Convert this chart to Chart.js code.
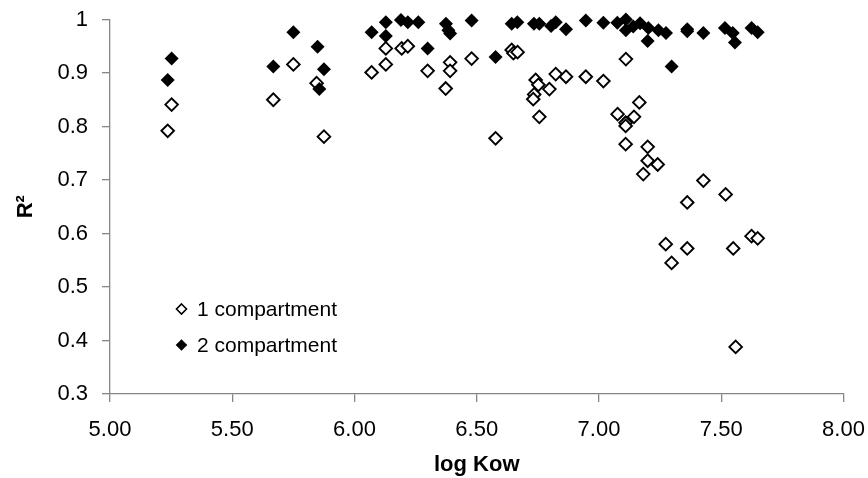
<!DOCTYPE html>
<html>
<head>
<meta charset="utf-8">
<script src="https://cdn.jsdelivr.net/npm/chart.js@4.4.0/dist/chart.umd.min.js"></script>
<style>
  html, body { margin: 0; padding: 0; background: #ffffff; }
  #wrap { width: 868px; height: 478px; position: relative; }
</style>
</head>
<body>
<div id="wrap"><canvas id="c" width="868" height="478"></canvas></div>
<script>
// ---- Data ----
const seriesNames = ['1 compartment', '2 compartment'];

const oneX = [5.252, 5.236, 5.668, 5.750, 5.845, 5.875,
  6.070, 6.128, 6.128, 6.193, 6.218, 6.299, 6.391, 6.391, 6.373, 6.479, 6.577, 6.643, 6.650, 6.667,
  6.741, 6.752, 6.735, 6.731, 6.756, 6.797, 6.823, 6.865, 6.946,
  7.018, 7.110, 7.076, 7.109, 7.109, 7.143, 7.165, 7.109, 7.199, 7.199, 7.240, 7.181,
  7.427, 7.518, 7.361, 7.273, 7.361, 7.297, 7.549, 7.624, 7.649, 7.559];
const oneY = [0.841, 0.792, 0.850, 0.916, 0.881, 0.781,
  0.901, 0.916, 0.946, 0.946, 0.950, 0.904, 0.920, 0.904, 0.871, 0.927, 0.778, 0.943, 0.937, 0.939,
  0.887, 0.878, 0.860, 0.851, 0.818, 0.870, 0.898, 0.893, 0.893,
  0.885, 0.926, 0.823, 0.807, 0.801, 0.818, 0.845, 0.767, 0.762, 0.736, 0.729, 0.711,
  0.699, 0.673, 0.658, 0.580, 0.572, 0.545, 0.572, 0.595, 0.591, 0.388];

const twoX = [5.252, 5.236, 5.668, 5.750, 5.849, 5.875, 5.856,
  6.070, 6.128, 6.128, 6.190, 6.218, 6.261, 6.299, 6.374, 6.384, 6.391, 6.479, 6.577, 6.643, 6.666,
  6.734, 6.756, 6.804, 6.823, 6.865, 6.946,
  7.018, 7.075, 7.110, 7.110, 7.140, 7.168, 7.202, 7.199, 7.243, 7.274, 7.297, 7.361, 7.361,
  7.427, 7.515, 7.547, 7.556, 7.624, 7.649];
const twoY = [0.927, 0.887, 0.912, 0.976, 0.949, 0.907, 0.870,
  0.976, 0.995, 0.969, 0.999, 0.995, 0.995, 0.946, 0.992, 0.980, 0.974, 0.998, 0.930, 0.992, 0.995,
  0.992, 0.992, 0.988, 0.995, 0.982, 0.998,
  0.994, 0.994, 1.000, 0.980, 0.987, 0.993, 0.984, 0.960, 0.980, 0.975, 0.912, 0.982, 0.978,
  0.975, 0.984, 0.975, 0.957, 0.984, 0.976];

const xTicks = [5.0, 5.5, 6.0, 6.5, 7.0, 7.5, 8.0];
const yTicks = [0.3, 0.4, 0.5, 0.6, 0.7, 0.8, 0.9, 1.0];
const xTitle = 'log Kow';
const yTitle = 'R\u00B2';

// ---- Build ----
const toPts = (xs, ys) => xs.map((x, i) => ({ x: x, y: ys[i] }));
const FONT = '"Liberation Sans", Arial, sans-serif';
const AXIS_COLOR = '#868686';

function diamond(ctx, x, y, r, fill, stroke, lw) {
  ctx.beginPath();
  ctx.moveTo(x, y - r);
  ctx.lineTo(x + r, y);
  ctx.lineTo(x, y + r);
  ctx.lineTo(x - r, y);
  ctx.closePath();
  ctx.fillStyle = fill;
  ctx.fill();
  if (lw > 0) { ctx.lineWidth = lw; ctx.strokeStyle = stroke; ctx.stroke(); }
}

const legendPlugin = {
  id: 'innerLegend',
  afterDatasetsDraw(chart) {
    const ctx = chart.ctx;
    const a = chart.chartArea;
    const mx = a.left + 71.5, tx = a.left + 87;
    const rows = [a.top + 289.5, a.top + 325.5];
    ctx.save();
    ctx.font = '21px ' + FONT;
    ctx.textBaseline = 'middle';
    ctx.textAlign = 'left';
    rows.forEach((ry, i) => {
      if (i === 0) diamond(ctx, mx, ry, 5, '#ffffff', '#000000', 1.6);
      else diamond(ctx, mx, ry, 5.8, '#000000', '#000000', 0);
      ctx.fillStyle = '#000000';
      ctx.fillText(seriesNames[i], tx, ry + 1);
    });
    ctx.restore();
  }
};

new Chart(document.getElementById('c'), {
  type: 'scatter',
  data: {
    datasets: [
      {
        label: seriesNames[0],
        data: toPts(oneX, oneY),
        pointStyle: 'rectRot',
        pointRadius: 6.3,
        pointHoverRadius: 6.3,
        backgroundColor: '#ffffff',
        borderColor: '#000000',
        pointBorderWidth: 1.9,
        clip: false,
        order: 2
      },
      {
        label: seriesNames[1],
        data: toPts(twoX, twoY),
        pointStyle: 'rectRot',
        pointRadius: 7,
        pointHoverRadius: 7,
        backgroundColor: '#000000',
        borderColor: '#000000',
        pointBorderWidth: 0,
        clip: false,
        order: 1
      }
    ]
  },
  options: {
    responsive: false,
    animation: false,
    events: [],
    layout: { padding: { left: 0, right: 24.5, top: 19.5, bottom: 0 } },
    plugins: {
      legend: { display: false },
      tooltip: { enabled: false }
    },
    scales: {
      x: {
        type: 'linear',
        min: xTicks[0],
        max: xTicks[xTicks.length - 1],
        afterBuildTicks: (s) => { s.ticks = xTicks.map(v => ({ value: v })); },
        afterFit: (s) => { s.height = 84; s.paddingLeft = 0; s.paddingRight = 0; },
        border: { display: true, color: AXIS_COLOR, width: 1.3 },
        grid: { display: true, drawOnChartArea: false, drawTicks: true, tickLength: 8, color: AXIS_COLOR, lineWidth: 1.3 },
        ticks: {
          color: '#000000',
          font: { family: FONT, size: 22 },
          padding: 15,
          maxRotation: 0,
          autoSkip: false,
          callback: (v) => Number(v).toFixed(2)
        },
        title: {
          display: true,
          text: xTitle,
          color: '#000000',
          font: { family: FONT, size: 22, weight: 'bold' },
          padding: { top: 2, bottom: 0 }
        }
      },
      y: {
        type: 'linear',
        min: yTicks[0],
        max: yTicks[yTicks.length - 1],
        afterBuildTicks: (s) => { s.ticks = yTicks.map(v => ({ value: v })); },
        afterFit: (s) => { s.width = 110; s.paddingTop = 0; s.paddingBottom = 0; },
        border: { display: true, color: AXIS_COLOR, width: 1.3 },
        grid: { display: true, drawOnChartArea: false, drawTicks: true, tickLength: 8, color: AXIS_COLOR, lineWidth: 1.3 },
        ticks: {
          color: '#000000',
          font: { family: FONT, size: 22 },
          padding: 14,
          autoSkip: false,
          callback: (v) => (Math.abs(v - 1) < 1e-9 ? '1' : Number(v).toFixed(1))
        },
        title: {
          display: true,
          text: yTitle,
          color: '#000000',
          font: { family: FONT, size: 22, weight: 'bold' },
          padding: { top: 13, bottom: 0 }
        }
      }
    }
  },
  plugins: [legendPlugin]
});
</script>
</body>
</html>
